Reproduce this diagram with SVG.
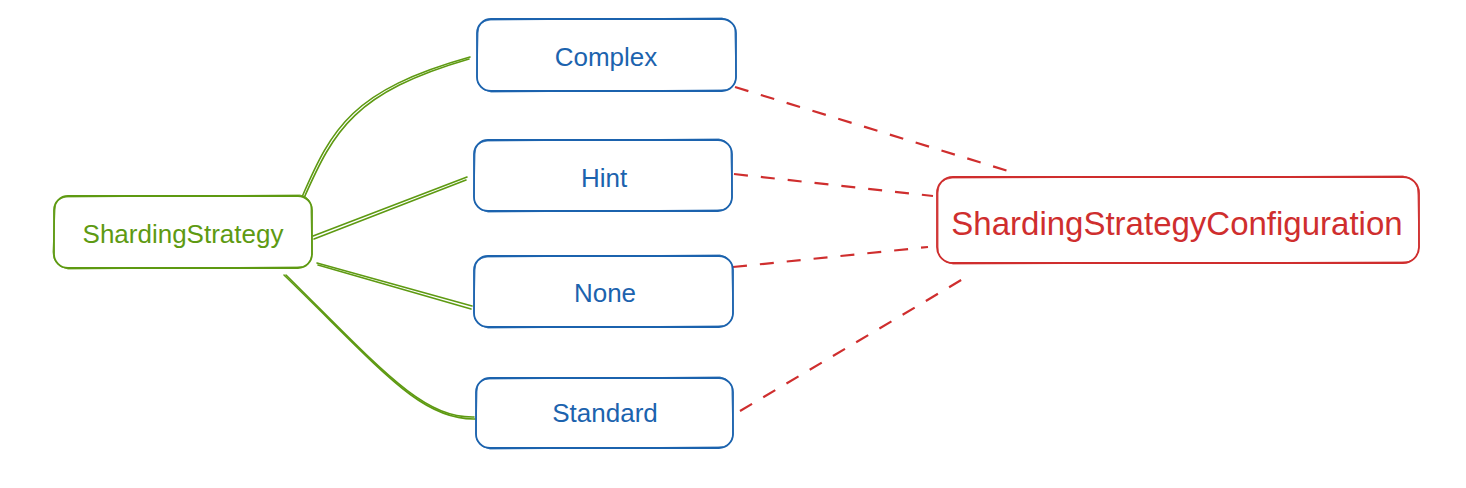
<svg xmlns="http://www.w3.org/2000/svg" width="1466" height="488" viewBox="0 0 1466 488">
<style>
.g{fill:none;stroke:#5e9a12;stroke-width:1.6;stroke-linecap:round}
.gb{fill:#fff;stroke:#5e9a12;stroke-width:1.8}
.bb{fill:#fff;stroke:#1c63ae;stroke-width:1.8}
.rb{fill:#fff;stroke:#cf2e2e;stroke-width:1.8}
.sk{fill:none;stroke-width:1;opacity:0.8}
.r{fill:none;stroke:#cf2e2e;stroke-width:2.2;stroke-dasharray:14 13}
.t{font-family:"Liberation Sans",Arial,sans-serif;text-anchor:middle}
</style>
<rect width="1466" height="488" fill="#fff"/>
<g id="connectors">
<path class="g" d="M302,197 C332,128 352,90 470,57"/>
<path class="g" d="M304,198 C334,130 355,92 469,59"/>
<path class="g" d="M313,236 L467,177"/>
<path class="g" d="M314,239 L466,180"/>
<path class="g" d="M317,263 L472,306"/>
<path class="g" d="M318,265 L471,309"/>
<path class="g" d="M284,275 C380,368 420,420 475,419"/>
<path class="g" d="M286,275 C382,370 422,418 474,417"/>
<path class="r" d="M735,87 L1018,174"/>
<path class="r" d="M734,174 L933,196"/>
<path class="r" d="M733,267 L928,247"/>
<path class="r" d="M740,411 L968,276"/>
</g>
<g id="node-shardingstrategy">
<rect class="gb" x="54" y="196" width="258" height="72" rx="14"/>
<path class="sk" stroke="#5e9a12" d="M66,197 L300,195 Q313,197 311,212 L312,254 Q310,268 297,267 L68,269 Q53,266 53,252 L55,210 Q55,198 66,197"/>
<text class="t" x="183" y="243" font-size="26" fill="#5e9a12">ShardingStrategy</text>
</g>
<g id="node-complex">
<rect class="bb" x="477" y="19" width="259" height="72" rx="14"/>
<path class="sk" stroke="#1c63ae" d="M490,20 L722,18 Q737,21 735,35 L736,78 Q734,91 721,90 L491,92 Q476,89 477,76 L478,33 Q478,21 490,20"/>
<text class="t" x="606" y="66" font-size="26" fill="#1c63ae">Complex</text>
</g>
<g id="node-hint">
<rect class="bb" x="474" y="140" width="258" height="71" rx="14"/>
<path class="sk" stroke="#1c63ae" d="M487,141 L719,139 Q733,142 731,156 L732,198 Q730,211 717,210 L488,212 Q473,209 474,196 L475,154 Q475,142 487,141"/>
<text class="t" x="604" y="187" font-size="26" fill="#1c63ae">Hint</text>
</g>
<g id="node-none">
<rect class="bb" x="474" y="256" width="259" height="71" rx="14"/>
<path class="sk" stroke="#1c63ae" d="M487,257 L720,255 Q734,258 732,272 L733,314 Q731,327 718,326 L488,328 Q473,325 474,312 L475,270 Q475,258 487,257"/>
<text class="t" x="605" y="302" font-size="26" fill="#1c63ae">None</text>
</g>
<g id="node-standard">
<rect class="bb" x="476" y="378" width="257" height="70" rx="14"/>
<path class="sk" stroke="#1c63ae" d="M489,379 L720,377 Q734,380 732,394 L733,435 Q731,448 718,447 L490,449 Q475,446 476,433 L477,391 Q477,379 489,379"/>
<text class="t" x="605" y="422" font-size="26" fill="#1c63ae">Standard</text>
</g>
<g id="node-config">
<rect class="rb" x="937" y="177" width="482" height="86" rx="16"/>
<path class="sk" stroke="#cf2e2e" d="M952,178 L1403,176 Q1419,179 1418,195 L1419,248 Q1417,263 1402,262 L953,264 Q936,261 938,246 L938,193 Q938,179 952,178"/>
<text class="t" x="1177" y="235" font-size="33" fill="#cf2e2e">ShardingStrategyConfiguration</text>
</g>
</svg>
